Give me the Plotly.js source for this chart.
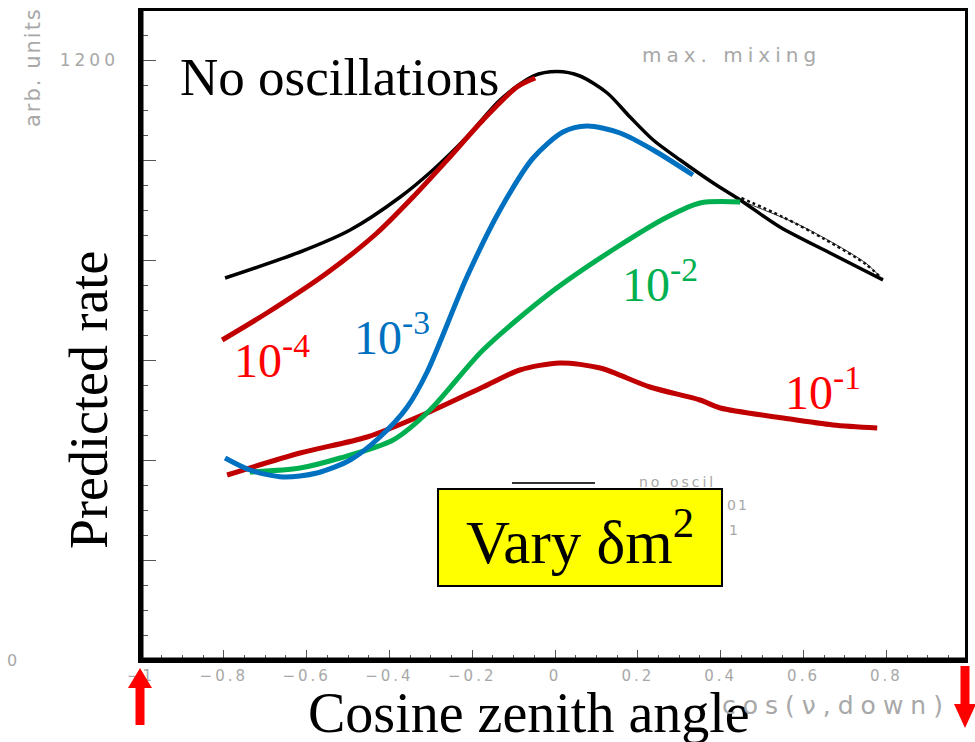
<!DOCTYPE html>
<html>
<head>
<meta charset="utf-8">
<script src="https://cdn.plot.ly/plotly-3.0.1.min.js"></script>
<style>
  html, body { margin: 0; padding: 0; background: #ffffff; }
  #chart { width: 975px; height: 742px; }
  /* wide, plotter-style spacing for the grey frame texts */
  text[data-unformatted="max. mixing"] { letter-spacing: 5px; }
  text[data-unformatted="cos(\3bd,down)"] { letter-spacing: 7px; }
  text[data-unformatted="no oscil"] { letter-spacing: 3px; }
  text[data-unformatted="01"], text[data-unformatted="arb. units"] { letter-spacing: 2px; }
  .xtick text { letter-spacing: 3px; }
  .y2tick text { letter-spacing: 4px; }
</style>
</head>
<body>
<div id="chart"></div>
<script>
// Atmospheric neutrino rate versus cosine of the zenith angle, max. mixing,
// for several values of the mass-squared difference.

// No oscillations
const cosNoOsc  = [-0.797, -0.616, -0.495, -0.374, -0.295, -0.213, -0.133, -0.053, 0.005, 0.060, 0.126, 0.181, 0.237, 0.302, 0.382, 0.447, 0.543, 0.664, 0.792];
const rateNoOsc = [764, 816, 860, 926, 980, 1046, 1120, 1168, 1177, 1168, 1134, 1086, 1040, 1000, 954, 920, 866, 814, 760];

// Dotted and thin companion curves on the falling side
const cosDotted  = [0.45, 0.55, 0.65, 0.75, 0.79];
const rateDotted = [924, 886, 842, 792, 762];
const cosThin    = [0.45, 0.60, 0.75, 0.79];
const rateThin   = [918, 866, 794, 762];

// δm² = 10^-4
const cosDm4  = [-0.804, -0.696, -0.551, -0.430, -0.343, -0.254, -0.174, -0.092, -0.048];
const rateDm4 = [640, 694, 774, 854, 926, 1006, 1080, 1146, 1164];

// δm² = 10^-3
const cosDm3  = [-0.797, -0.737, -0.657, -0.575, -0.495, -0.423, -0.357, -0.309, -0.213, -0.133, -0.053, 0.019, 0.077, 0.157, 0.237, 0.333];
const rateDm3 = [404, 380, 366, 374, 400, 446, 506, 576, 766, 900, 1004, 1056, 1068, 1054, 1020, 970];

// δm² = 10^-2
const cosDm2  = [-0.737, -0.616, -0.519, -0.391, -0.302, -0.174, -0.012, 0.150, 0.271, 0.350, 0.447];
const rateDm2 = [376, 384, 404, 440, 500, 620, 734, 826, 886, 914, 916];

// δm² = 10^-1
const cosDm1  = [-0.792, -0.616, -0.454, -0.309, -0.174, -0.085, 0.012, 0.109, 0.229, 0.350, 0.399, 0.551, 0.671, 0.778];
const rateDm1 = [370, 414, 446, 494, 546, 580, 594, 584, 546, 520, 504, 484, 470, 464];

// Axis ticks
const xTickVals = [-1, -0.8, -0.6, -0.4, -0.2, 0, 0.2, 0.4, 0.6, 0.8];
const xTickText = ['\u22121', '\u22120.8', '\u22120.6', '\u22120.4', '\u22120.2', '0', '0.2', '0.4', '0.6', '0.8'];
const yTickVals = [0, 200, 400, 600, 800, 1000, 1200];
const yLabelVals = [1200];
const yLabelText = ['1200'];

// Page geometry (plot box in page pixels)
const W = 975, H = 742;
const M = { l: 141, r: 10, t: 11, b: 82 };
const plotW = W - M.l - M.r, plotH = H - M.t - M.b;
const px = x => (x - M.l) / plotW;          // page x -> paper x
const py = y => (H - M.b - y) / plotH;      // page y -> paper y

function arrow(cx, tailY, tipY, headLen, headHalf, shaftHalf) {
  const dir = tipY < tailY ? 1 : -1;        // +1 points up on the page
  const baseY = tipY + dir * headLen;
  const pts = [
    [cx - shaftHalf, tailY], [cx - shaftHalf, baseY], [cx - headHalf, baseY],
    [cx, tipY], [cx + headHalf, baseY], [cx + shaftHalf, baseY], [cx + shaftHalf, tailY]
  ];
  return 'M' + pts.map(p => px(p[0]).toFixed(5) + ',' + py(p[1]).toFixed(5)).join(' L') + ' Z';
}

const serif = 'Liberation Serif, Times New Roman, serif';
const sans = 'DejaVu Sans, sans-serif';
const grey = '#a8a8a8';

function curve(x, y, color, width, dash) {
  return {
    x: x, y: y, type: 'scatter', mode: 'lines', hoverinfo: 'skip',
    line: { color: color, width: width, shape: 'spline', smoothing: 0.8, dash: dash || 'solid' }
  };
}

const traces = [
  curve(cosThin, rateThin, '#333333', 1),
  curve(cosDotted, rateDotted, '#111111', 2.5, 'dot'),
  curve(cosNoOsc, rateNoOsc, '#000000', 3.5),
  curve(cosDm1, rateDm1, '#c00000', 5),
  curve(cosDm2, rateDm2, '#00b050', 5),
  curve(cosDm3, rateDm3, '#0070c0', 5),
  curve(cosDm4, rateDm4, '#c00000', 5)
];

function label(text, x, y, color, size) {
  return {
    text: text, x: x, y: y, xref: 'x', yref: 'y', xanchor: 'left', yanchor: 'middle',
    showarrow: false, font: { family: serif, size: size, color: color }
  };
}

function pageText(text, x, y, xanchor, size, angle) {
  return {
    text: text, x: px(x), y: py(y), xref: 'paper', yref: 'paper',
    xanchor: xanchor, yanchor: 'middle', showarrow: false, textangle: angle || 0,
    font: { family: sans, size: size, color: grey }
  };
}

const annotations = [
  label('No oscillations', -0.910, 1166, '#000000', 53),
  label('10<sup>-4</sup>', -0.780, 606, '#ff0000', 48),
  label('10<sup>-3</sup>', -0.490, 652, '#0070c0', 48),
  label('10<sup>-2</sup>', 0.156, 758, '#00b050', 48),
  label('10<sup>-1</sup>', 0.550, 542, '#ff0000', 48),
  {
    text: 'Vary \u03b4m<sup>2</sup>', x: 0.060, y: 245, xref: 'x', yref: 'y',
    xanchor: 'center', yanchor: 'middle', showarrow: false,
    width: 282, height: 95, borderpad: 0,
    bgcolor: '#ffff00', bordercolor: '#000000', borderwidth: 2,
    font: { family: serif, size: 61, color: '#000000' }
  },
  {
    text: 'Cosine zenith angle', x: px(529), y: py(713), xref: 'paper', yref: 'paper',
    xanchor: 'center', yanchor: 'middle', showarrow: false,
    font: { family: serif, size: 56, color: '#000000' }
  },
  {
    text: 'Predicted rate', x: px(89), y: py(400), xref: 'paper', yref: 'paper',
    xanchor: 'center', yanchor: 'middle', showarrow: false, textangle: -90,
    font: { family: serif, size: 54, color: '#000000' }
  },
  pageText('arb. units', 33, 67, 'center', 21, -90),
  pageText('max. mixing', 640, 55, 'left', 20),
  pageText('cos(\u03bd,down)', 720, 705, 'left', 25),
  pageText('0', 12, 660, 'center', 16),
  pageText('no oscil', 637, 482, 'left', 14),
  pageText('01', 725, 505, 'left', 14),
  pageText('1', 727, 530, 'left', 14)
];

const shapes = [
  // heavier left and bottom frame edges
  { type: 'line', xref: 'paper', yref: 'paper', x0: 0, x1: 0, y0: 0, y1: 1,
    line: { color: '#000000', width: 5 } },
  { type: 'line', xref: 'paper', yref: 'paper', x0: 0, x1: 1, y0: 0, y1: 0,
    line: { color: '#000000', width: 5 } },
  // legend sample line for "no oscil"
  { type: 'line', xref: 'paper', yref: 'paper', x0: px(512), x1: px(595), y0: py(483), y1: py(483),
    line: { color: '#333333', width: 2 }, layer: 'below' },
  // red direction arrows under the axis ends
  { type: 'path', xref: 'paper', yref: 'paper', path: arrow(140, 725, 668, 20, 12, 4.5),
    fillcolor: '#ff0000', line: { width: 0 } },
  { type: 'path', xref: 'paper', yref: 'paper', path: arrow(965, 666, 728, 24, 11, 4.5),
    fillcolor: '#ff0000', line: { width: 0 } }
];

const layout = {
  width: W, height: H,
  margin: { l: M.l, r: M.r, t: M.t, b: M.b, pad: 0 },
  paper_bgcolor: '#ffffff', plot_bgcolor: '#ffffff',
  showlegend: false,
  xaxis: {
    range: [-1, 0.99], showgrid: false, zeroline: false,
    showline: true, linecolor: '#000000', linewidth: 3, mirror: true,
    tickmode: 'array', tickvals: xTickVals, ticktext: xTickText,
    ticks: 'inside', ticklen: 10, tickwidth: 1, tickcolor: '#555555',
    minor: { dtick: 0.05, ticks: 'inside', ticklen: 5, tickwidth: 1, tickcolor: '#555555' },
    tickfont: { family: sans, size: 15, color: grey }
  },
  yaxis: {
    range: [0, 1298], showgrid: false, zeroline: false,
    showline: true, linecolor: '#000000', linewidth: 3, mirror: true,
    tickmode: 'array', tickvals: yTickVals, showticklabels: false,
    ticks: 'inside', ticklen: 15, tickwidth: 1, tickcolor: '#555555',
    minor: { dtick: 50, ticks: 'inside', ticklen: 7, tickwidth: 1, tickcolor: '#555555' }
  },
  // label-only copy of the y axis: the scale is labelled at 1200
  yaxis2: {
    overlaying: 'y', matches: 'y', side: 'left', anchor: 'free', position: 0,
    showgrid: false, zeroline: false, showline: false, ticks: '',
    tickmode: 'array', tickvals: yLabelVals, ticktext: yLabelText,
    ticklabelstandoff: 22,
    tickfont: { family: sans, size: 17, color: grey }
  },
  annotations: annotations,
  shapes: shapes
};

// an empty trace binds the label-only axis
traces.push({ x: [], y: [], yaxis: 'y2', type: 'scatter', mode: 'lines', hoverinfo: 'skip' });

Plotly.newPlot('chart', traces, layout, { displayModeBar: false, staticPlot: true });
</script>
</body>
</html>
